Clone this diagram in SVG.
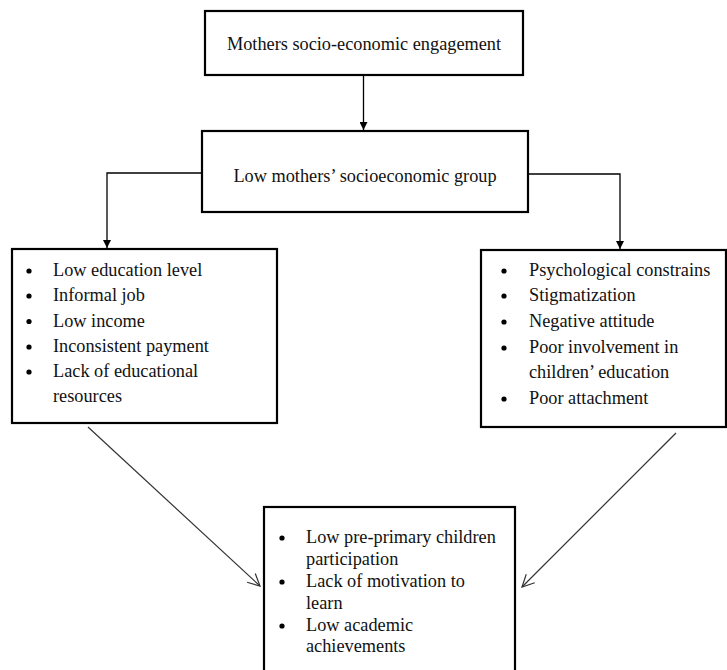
<svg xmlns="http://www.w3.org/2000/svg" width="727" height="670" viewBox="0 0 727 670">
<style>
.box{fill:#fff;stroke:#000;stroke-width:2.2}
.t{font-family:'Liberation Serif',Tinos,'Times New Roman','DejaVu Serif',serif;font-size:18.3px;fill:#111}
.c{text-anchor:middle}
.ln{fill:none;stroke:#000;stroke-width:1.3}
.dg{fill:none;stroke:#333;stroke-width:1.2}
.b{fill:#000}
</style>
<defs>
<marker id="fa" viewBox="0 0 10 10" refX="10" refY="5" markerWidth="8" markerHeight="8" markerUnits="userSpaceOnUse" orient="auto">
<path d="M0,0 L10,5 L0,10 Z" fill="#000"/>
</marker>
<marker id="oa" viewBox="0 0 14 14" refX="13" refY="7" markerWidth="14" markerHeight="14" markerUnits="userSpaceOnUse" orient="auto">
<path d="M1,1 L13,7 L1,13" fill="none" stroke="#333" stroke-width="1.2"/>
</marker>
</defs>
<g id="connectors">
<line class="ln" x1="363.5" y1="76" x2="363.5" y2="130" marker-end="url(#fa)"/>
<polyline class="ln" points="202,173 107,173 107,248" marker-end="url(#fa)"/>
<polyline class="ln" points="528,174 620,174 620,249" marker-end="url(#fa)"/>
<line class="dg" x1="88" y1="427" x2="260" y2="586" marker-end="url(#oa)"/>
<line class="dg" x1="676" y1="433" x2="522" y2="587" marker-end="url(#oa)"/>
</g>
<g id="n1">
<rect class="box" x="205" y="11" width="318" height="64"/>
<text class="t c" x="364" y="50" font-family="Liberation Serif, serif">Mothers socio-economic engagement</text>
</g>
<g id="n2">
<rect class="box" x="202" y="131" width="326" height="81"/>
<text class="t c" x="365" y="182">Low mothers’ socioeconomic group</text>
</g>
<g id="n3">
<rect class="box" x="12" y="249" width="265" height="174"/>
<circle class="b" cx="29" cy="271" r="2.6"/>
<circle class="b" cx="29" cy="296" r="2.6"/>
<circle class="b" cx="29" cy="321.5" r="2.6"/>
<circle class="b" cx="29" cy="347" r="2.6"/>
<circle class="b" cx="29" cy="372" r="2.6"/>
<text class="t" x="53" y="276">Low education level</text>
<text class="t" x="53" y="301">Informal job</text>
<text class="t" x="53" y="326.5">Low income</text>
<text class="t" x="53" y="352">Inconsistent payment</text>
<text class="t" x="53" y="377">Lack of educational</text>
<text class="t" x="53" y="402">resources</text>
</g>
<g id="n4">
<rect class="box" x="481" y="250" width="245" height="177"/>
<circle class="b" cx="504" cy="271" r="2.6"/>
<circle class="b" cx="504" cy="296" r="2.6"/>
<circle class="b" cx="504" cy="322" r="2.6"/>
<circle class="b" cx="504" cy="348" r="2.6"/>
<circle class="b" cx="504" cy="399" r="2.6"/>
<text class="t" x="529" y="276">Psychological constrains</text>
<text class="t" x="529" y="301">Stigmatization</text>
<text class="t" x="529" y="327">Negative attitude</text>
<text class="t" x="529" y="353">Poor involvement in</text>
<text class="t" x="529" y="378">children’ education</text>
<text class="t" x="529" y="404">Poor attachment</text>
</g>
<g id="n5">
<rect class="box" x="264" y="507" width="251" height="170"/>
<circle class="b" cx="282" cy="538" r="2.6"/>
<circle class="b" cx="282" cy="582" r="2.6"/>
<circle class="b" cx="282" cy="626" r="2.6"/>
<text class="t" x="306" y="543">Low pre-primary children</text>
<text class="t" x="306" y="565">participation</text>
<text class="t" x="306" y="587">Lack of motivation to</text>
<text class="t" x="306" y="608.5">learn</text>
<text class="t" x="306" y="631">Low academic</text>
<text class="t" x="306" y="652">achievements</text>
</g>
</svg>
